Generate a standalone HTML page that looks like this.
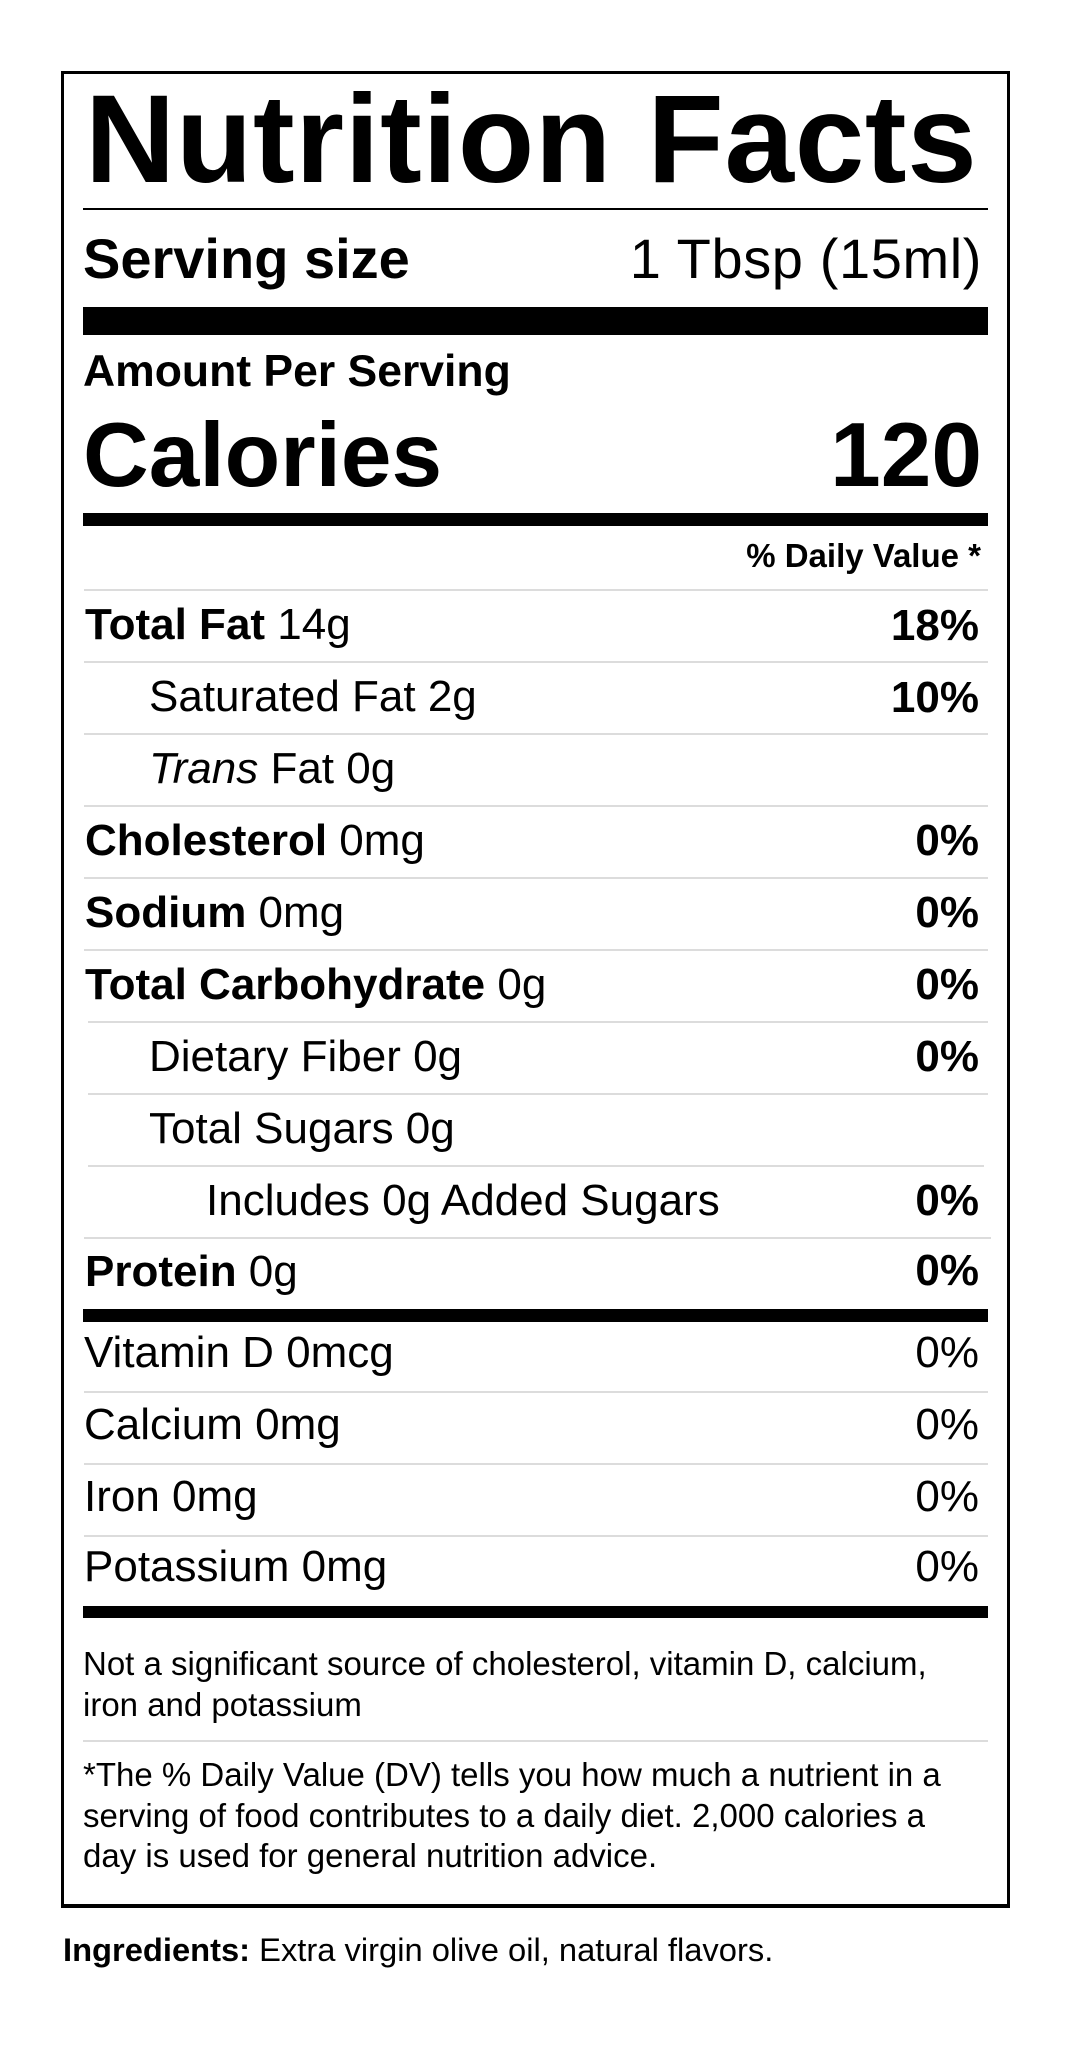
<!DOCTYPE html>
<html>
<head>
<meta charset="utf-8">
<style>
  html, body { margin: 0; padding: 0; }
  body { width: 1071px; height: 2048px; background: #fff; position: relative; overflow: hidden;
         font-family: "Liberation Sans", Arial, sans-serif; color: #000; }
  .a { position: absolute; white-space: nowrap; line-height: 1; }
  .b { font-weight: bold; }
  .box { position: absolute; left: 61px; top: 71px; width: 943px; height: 1830px;
         border: 3px solid #000; border-bottom-width: 4px; }
  .bar { position: absolute; left: 83px; width: 905px; background: #000; }
  .gl { position: absolute; left: 84px; width: 904px; height: 2px; background: #dcdcdc; }
  .row { font-size: 44px; }
  .pct { position: absolute; right: 92px; white-space: nowrap; line-height: 1; font-size: 44px; text-align: right; }
</style>
</head>
<body>
<div class="box"></div>

<div class="a b" style="left:85px; top:77px; font-size:125px; letter-spacing:0.7px;">Nutrition Facts</div>
<div class="bar" style="top:208px; height:2px;"></div>

<div class="a b" style="left:83px; top:231px; font-size:56px;">Serving size</div>
<div class="a" style="right:89px; top:231px; font-size:56px; letter-spacing:0.6px;">1 Tbsp (15ml)</div>

<div class="bar" style="top:307px; height:28px;"></div>

<div class="a b" style="left:83px; top:350px; font-size:44.5px;">Amount Per Serving</div>
<div class="a b" style="left:83px; top:410px; font-size:91px;">Calories</div>
<div class="a b" style="right:89px; top:410px; font-size:91px;">120</div>

<div class="bar" style="top:513px; height:13px;"></div>

<div class="a b" style="right:90px; top:539px; font-size:33px;">% Daily Value *</div>

<!-- rows -->
<div class="gl" style="top:589px;"></div>
<div class="a row" style="left:85px; top:603px;"><b>Total Fat</b> 14g</div>
<div class="pct b" style="top:604px;">18%</div>

<div class="gl" style="top:661px;"></div>
<div class="a row" style="left:149px; top:675px;">Saturated Fat 2g</div>
<div class="pct b" style="top:676px;">10%</div>

<div class="gl" style="top:733px;"></div>
<div class="a row" style="left:149px; top:747px;"><i>Trans</i> Fat 0g</div>

<div class="gl" style="top:805px;"></div>
<div class="a row" style="left:85px; top:819px;"><b>Cholesterol</b> 0mg</div>
<div class="pct b" style="top:819px;">0%</div>

<div class="gl" style="top:877px;"></div>
<div class="a row" style="left:85px; top:891px;"><b>Sodium</b> 0mg</div>
<div class="pct b" style="top:891px;">0%</div>

<div class="gl" style="top:949px;"></div>
<div class="a row" style="left:85px; top:963px;"><b>Total Carbohydrate</b> 0g</div>
<div class="pct b" style="top:963px;">0%</div>

<div class="gl" style="top:1021px; left:88px; width:900px;"></div>
<div class="a row" style="left:149px; top:1035px;">Dietary Fiber 0g</div>
<div class="pct b" style="top:1035px;">0%</div>

<div class="gl" style="top:1093px; left:88px; width:900px;"></div>
<div class="a row" style="left:149px; top:1107px;">Total Sugars 0g</div>

<div class="gl" style="top:1165px; left:88px; width:896px;"></div>
<div class="a row" style="left:206px; top:1179px;">Includes 0g Added Sugars</div>
<div class="pct b" style="top:1179px;">0%</div>

<div class="gl" style="top:1237px; width:907px;"></div>
<div class="a row" style="left:85px; top:1250px;"><b>Protein</b> 0g</div>
<div class="pct b" style="top:1249px;">0%</div>

<div class="bar" style="top:1309px; height:13px;"></div>

<div class="a row" style="left:84px; top:1331px;">Vitamin D 0mcg</div>
<div class="pct" style="top:1331px;">0%</div>

<div class="gl" style="top:1391px;"></div>
<div class="a row" style="left:84px; top:1403px;">Calcium 0mg</div>
<div class="pct" style="top:1403px;">0%</div>

<div class="gl" style="top:1463px;"></div>
<div class="a row" style="left:84px; top:1475px;">Iron 0mg</div>
<div class="pct" style="top:1475px;">0%</div>

<div class="gl" style="top:1535px;"></div>
<div class="a row" style="left:84px; top:1545px;">Potassium 0mg</div>
<div class="pct" style="top:1545px;">0%</div>

<div class="bar" style="top:1606px; height:12px;"></div>

<div class="a" style="left:83px; top:1643px; font-size:33px; line-height:41px;">Not a significant source of cholesterol, vitamin D, calcium,<br>iron and potassium</div>

<div class="gl" style="top:1740px; left:83px; width:905px;"></div>

<div class="a" style="left:83px; top:1755px; font-size:33px; line-height:40.5px;">*The % Daily Value (DV) tells you how much a nutrient in a<br>serving of food contributes to a daily diet. 2,000 calories a<br>day is used for general nutrition advice.</div>

<div class="a" style="left:63px; top:1934px; font-size:32.7px;"><b>Ingredients:</b> Extra virgin olive oil, natural flavors.</div>
</body>
</html>
